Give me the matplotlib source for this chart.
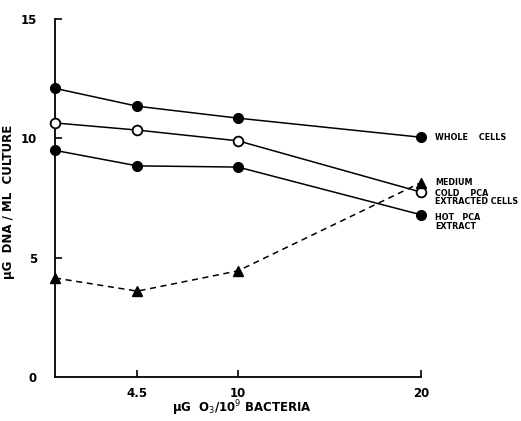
import matplotlib
matplotlib.use("Agg")
from matplotlib import pyplot as plt

# ug O3 per 10^9 bacteria (0 = control)
ozone = [0, 4.5, 10, 20]

whole_cells = [12.1, 11.35, 10.85, 10.05]
cold_pca = [10.65, 10.35, 9.9, 7.75]
hot_pca = [9.5, 8.85, 8.8, 6.8]
medium = [4.15, 3.6, 4.45, 8.15]

x_ticks = [4.5, 10, 20]
x_ticklabels = ["4.5", "10", "20"]
y_ticks = [5, 10, 15]

fig = plt.figure(figsize=(5.21, 4.21), dpi=100)
ax = fig.add_axes([0.1056, 0.1045, 0.7025, 0.850])

ms = 7
ax.plot(ozone, whole_cells, color="black", lw=1.1, marker="o", ms=ms,
        mfc="black", mec="black", clip_on=False, zorder=3)
ax.plot(ozone, cold_pca, color="black", lw=1.1, marker="o", ms=ms,
        mfc="white", mec="black", mew=1.3, clip_on=False, zorder=3)
ax.plot(ozone, hot_pca, color="black", lw=1.1, marker="o", ms=ms,
        mfc="black", mec="black", clip_on=False, zorder=3)
ax.plot(ozone, medium, color="black", lw=1.1, ls=(0, (4, 3)), marker="^", ms=ms,
        mfc="black", mec="black", clip_on=False, zorder=3)

ax.set_xlim(0, 20)
ax.set_ylim(0, 15)
ax.set_xticks(x_ticks)
ax.set_xticklabels(x_ticklabels)
ax.set_yticks([0] + y_ticks)
ax.tick_params(direction="in", length=5, width=1.2, labelsize=8.5)
ax.tick_params(axis="x", pad=7)
ax.tick_params(axis="y", pad=13)
ax.yaxis.get_major_ticks()[0].tick1line.set_visible(False)
for lab in ax.get_xticklabels() + ax.get_yticklabels():
    lab.set_fontweight("bold")

ax.spines["top"].set_visible(False)
ax.spines["right"].set_visible(False)
ax.spines["left"].set_linewidth(1.3)
ax.spines["bottom"].set_linewidth(1.3)

ax.set_ylabel("μG  DNA / ML  CULTURE", fontsize=8.5, fontweight="bold")
ax.set_xlabel("μG  O$_3$/10$^9$ BACTERIA", fontsize=8.5, fontweight="bold", va="center")
ax.yaxis.set_label_coords(-0.11, 0.49)
ax.xaxis.set_label_coords(0.51, -0.088)

# labels next to the right ends of the curves
lab_kw = dict(fontsize=5.8, fontweight="bold", ha="left", va="center",
              annotation_clip=False, textcoords="offset points", linespacing=0.95)
ax.annotate("WHOLE    CELLS", xy=(20, whole_cells[-1]), xytext=(10, 0), **lab_kw)
ax.annotate("MEDIUM", xy=(20, medium[-1]), xytext=(10, 0), **lab_kw)
ax.annotate("COLD    PCA\nEXTRACTED CELLS", xy=(20, cold_pca[-1]), xytext=(10, -4), **lab_kw)
ax.annotate("HOT   PCA\nEXTRACT", xy=(20, hot_pca[-1]), xytext=(10, -5), **lab_kw)

fig.savefig("out.png", dpi=100)
